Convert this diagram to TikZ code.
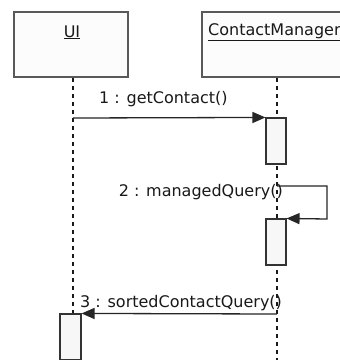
\documentclass[tikz,border=0pt]{standalone}
\usepackage{fontspec}
\setmainfont{DejaVu Sans}
\usetikzlibrary{arrows.meta}
\begin{document}
\begin{tikzpicture}[x=1pt,y=-1pt,
  headbox/.style={draw=black!65, fill=black!1, line width=1.1pt, inner sep=0},
  actbox/.style={draw=black!80, fill=black!3, line width=1.1pt, inner sep=0},
  life/.style={draw=black!90, line width=1.7pt, dash pattern=on 4pt off 4pt},
  msg/.style={draw=black!85, line width=1.3pt, -{Triangle[length=13pt,width=11pt]}},
  lbl/.style={font=\fontsize{16}{18}\selectfont, text=black!90, inner sep=0}]
\useasboundingbox (0,0) rectangle (340,360);
\clip (0,0) rectangle (340,360);
\fill[white] (0,0) rectangle (340,360);
% lifeline heads
\node[headbox, minimum width=114pt, minimum height=65pt] (uiH) at (71,44.5) {};
\node[headbox, minimum width=160pt, minimum height=65pt] (cmH) at (282,44.5) {};
\node[lbl, anchor=base] (uiT) at (72,37) {\underline{UI}};
\node[lbl, anchor=base west] (cmT) at (208,35) {\underline{ContactManager}};
% lifelines
\coordinate (uiTop) at (73,78);
\coordinate (uiBot) at (73,314);
\coordinate (cmTop) at (277,78);
\coordinate (cmBot) at (277,362);
\draw[life] (uiTop) -- (uiBot);
\draw[life] (cmTop) -- (cmBot);
% activation boxes
\node[actbox, minimum width=20pt, minimum height=46pt] (a1) at (276,141) {};
\node[actbox, minimum width=20pt, minimum height=46pt] (a2) at (276,242) {};
\node[actbox, minimum width=21pt, minimum height=46pt] (a3) at (70.5,337) {};
% messages
\coordinate (m1s) at (73,118);
\draw[msg] (m1s) -- (a1.north west);
\node[lbl, anchor=base west] (l1) at (99,103) {1 : getContact()};
\coordinate (m2s) at (277,186);
\coordinate (m2a) at (327,186);
\coordinate (m2b) at (327,219);
\draw[msg] (m2s) -- (m2a) -- (m2b) -- (a2.north east);
\node[lbl, anchor=base east] (l2) at (283,196) {2 : managedQuery()};
\coordinate (m3s) at (277,314);
\draw[msg] (m3s) -- (a3.north east);
\node[lbl, anchor=base west] (l3) at (80,307) {3 : sortedContactQuery()};
\end{tikzpicture}
\end{document}
